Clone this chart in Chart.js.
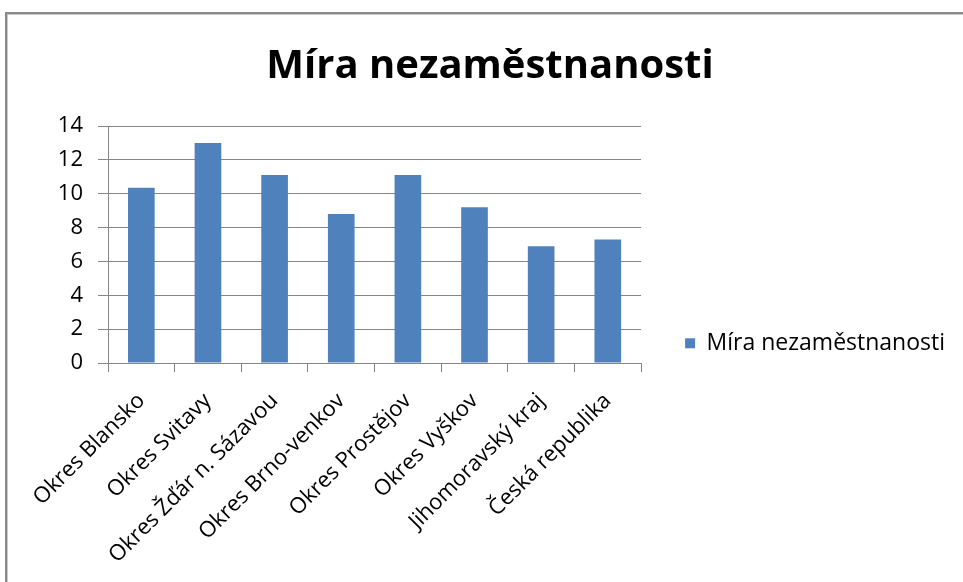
<!DOCTYPE html>
<html lang="cs">
<head>
  <meta charset="UTF-8">
  <title>Míra nezaměstnanosti</title>
  <script src="https://cdn.jsdelivr.net/npm/chart.js"></script>
  <style>
    body {
      margin: 0;
      background: #fff;
      overflow: hidden;
      font-family: 'Open Sans', sans-serif;
    }
    .frame {
      position: absolute;
      left: 5px;
      top: 12px;
      width: 1100px;
      height: 700px;
      border: 2px solid #8a8a8a;
      box-shadow: inset 1px 1px 0 #c8c8c8;
    }
    .chart-box {
      position: absolute;
      left: 0;
      top: 0;
      width: 963px;
      height: 582px;
    }
  </style>
</head>
<body>
  <div class="frame"></div>
  <div class="chart-box">
    <canvas id="barChart"></canvas>
  </div>

  <script>
    const regions = ['Okres Blansko', 'Okres Svitavy', 'Okres Žďár n. Sázavou', 'Okres Brno-venkov',
      'Okres Prostějov', 'Okres Vyškov', 'Jihomoravský kraj', 'Česká republika'];
    const unemployment = [10.35, 13.0, 11.1, 8.8, 11.1, 9.2, 6.9, 7.3];
    const seriesName = 'Míra nezaměstnanosti';
    const yTicks = [0, 2, 4, 6, 8, 10, 12, 14];

    const gridColor = '#868686';
    const fontFamily = "'Open Sans', sans-serif";

    function drawChart() {
      const ctx = document.getElementById('barChart').getContext('2d');

      new Chart(ctx, {
        type: 'bar',
        data: {
          labels: regions,
          datasets: [{
            label: seriesName,
            data: unemployment,
            backgroundColor: '#4f81bd',
            borderWidth: 0,
            categoryPercentage: 1,
            barPercentage: 0.4
          }]
        },
        options: {
          responsive: true,
          maintainAspectRatio: false,
          animation: false,
          layout: {
            padding: { left: 25, right: 8, top: 30, bottom: 10 }
          },
          plugins: {
            title: {
              display: true,
              text: seriesName,
              color: '#000',
              font: { family: fontFamily, size: 40, weight: 'bold' },
              padding: { top: 13, bottom: 35 }
            },
            legend: {
              position: 'right',
              maxWidth: 400,
              title: {
                // empty title only pushes the legend item down to the reference position
                display: true,
                text: '',
                padding: { top: 57, bottom: 0 },
                font: { family: fontFamily, size: 23 }
              },
              labels: {
                boxWidth: 10,
                boxHeight: 10,
                padding: 44,
                color: '#000',
                font: { family: fontFamily, size: 23 }
              }
            },
            tooltip: { enabled: false }
          },
          scales: {
            x: {
              afterFit: scale => { scale.height = 209; },
              grid: {
                display: true,
                drawOnChartArea: false,
                drawTicks: true,
                tickLength: 9,
                color: gridColor
              },
              border: { display: true, color: gridColor },
              ticks: {
                color: '#000',
                maxRotation: 45,
                minRotation: 45,
                padding: 16,
                font: { family: fontFamily, size: 22 }
              }
            },
            y: {
              min: yTicks[0],
              max: yTicks[yTicks.length - 1],
              afterFit: scale => { scale.width = 83; },
              ticks: {
                stepSize: 2,
                color: '#000',
                padding: 15,
                font: { family: fontFamily, size: 22 }
              },
              grid: {
                color: gridColor,
                tickLength: 10
              },
              border: { display: true, color: gridColor }
            }
          }
        }
      });
    }

    Promise.all([
      document.fonts.load("22px 'Open Sans'"),
      document.fonts.load("23px 'Open Sans'"),
      document.fonts.load("bold 40px 'Open Sans'")
    ]).then(drawChart, drawChart);
  </script>
</body>
</html>
